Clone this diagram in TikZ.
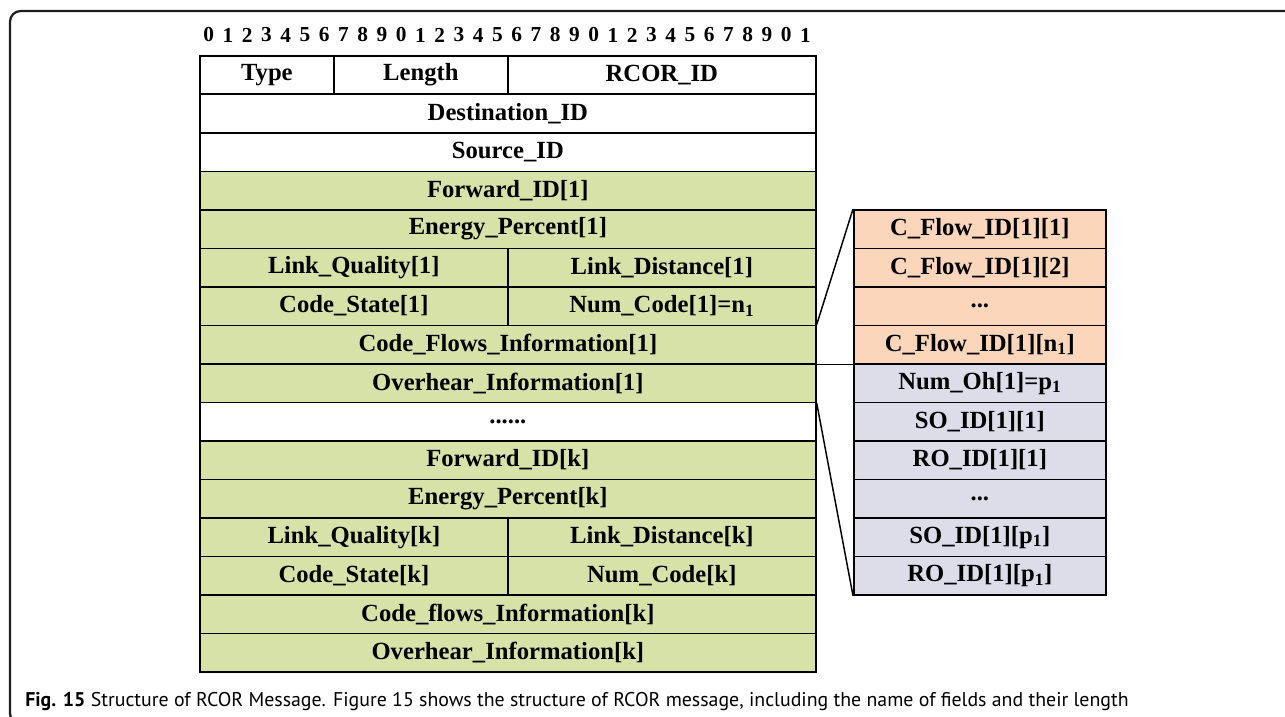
\documentclass[tikz,border=0pt]{standalone}
\usepackage{fontspec}
\setmainfont{Liberation Serif}
\newfontfamily\capfont{PT Sans}

\definecolor{fgreen}{RGB}{214,226,168}
\definecolor{fpeach}{RGB}{252,214,186}
\definecolor{flav}{RGB}{221,221,234}
\definecolor{framegray}{RGB}{30,30,30}

\tikzset{
  field/.style={draw=black, line width=1.3pt, anchor=north west, inner sep=0pt,
    minimum height=28.875pt, font=\fontsize{18.5}{20}\selectfont\bfseries},
  wfield/.style={field, fill=white},
  gfield/.style={field, fill=fgreen},
  pfield/.style={field, fill=fpeach},
  lfield/.style={field, fill=flav},
  full/.style={minimum width=462pt},
  half/.style={minimum width=231pt},
  side/.style={minimum width=189pt},
  bitnum/.style={font=\fontsize{16}{18}\selectfont\bfseries, inner sep=0pt},
  link/.style={draw=black, line width=1.1pt},
}

\begin{document}
\begin{tikzpicture}[x=0.75pt, y=-0.75pt]
\useasboundingbox (0,0) rectangle (1285,717);
\begin{scope}
\clip (0,0) rectangle (1285,717);
% outer frame of the figure box
\draw[framegray, line width=1.7pt, rounded corners=8pt] (10,11) rectangle (1320,724);
\end{scope}

% bit numbering above the message
\foreach \i in {0,...,31} {
  \pgfmathtruncatemacro\d{mod(\i,10)}
  \node[bitnum] (b\i) at ({199+(\i+0.5)*19.25},35) {\d};
}

% message fields
\node[wfield, minimum width=100.5pt] (type) at (199,55) {Type};
\node[wfield, minimum width=130.5pt] (len) at (333,55) {Length};
\node[wfield, half] (rcor) at (507,55) {RCOR\_ID};
\node[wfield, full] (dst) at (199,93.5) {Destination\_ID};
\node[wfield, full] (src) at (199,132) {Source\_ID};
\node[gfield, full] (fw1) at (199,170.5) {Forward\_ID[1]};
\node[gfield, full] (en1) at (199,209) {Energy\_Percent[1]};
\node[gfield, half] (lq1) at (199,247.5) {Link\_Quality[1]};
\node[gfield, half] (ld1) at (507,247.5) {Link\_Distance[1]};
\node[gfield, half] (cs1) at (199,286) {Code\_State[1]};
\node[gfield, half] (nc1) at (507,286) {Num\_Code[1]=n\textsubscript{1}};
\node[gfield, full] (cf1) at (199,324.5) {Code\_Flows\_Information[1]};
\node[gfield, full] (oh1) at (199,363) {Overhear\_Information[1]};
\node[wfield, full] (dots) at (199,401.5) {......};
\node[gfield, full] (fwk) at (199,440) {Forward\_ID[k]};
\node[gfield, full] (enk) at (199,478.5) {Energy\_Percent[k]};
\node[gfield, half] (lqk) at (199,517) {Link\_Quality[k]};
\node[gfield, half] (ldk) at (507,517) {Link\_Distance[k]};
\node[gfield, half] (csk) at (199,555.5) {Code\_State[k]};
\node[gfield, half] (nck) at (507,555.5) {Num\_Code[k]};
\node[gfield, full] (cfk) at (199,594) {Code\_flows\_Information[k]};
\node[gfield, full] (ohk) at (199,632.5) {Overhear\_Information[k]};

% expanded code flow and overhear information
\node[pfield, side] (c1) at (853,209) {C\_Flow\_ID[1][1]};
\node[pfield, side] (c2) at (853,247.5) {C\_Flow\_ID[1][2]};
\node[pfield, side] (c3) at (853,286) {...};
\node[pfield, side] (cn) at (853,324.5) {C\_Flow\_ID[1][n\textsubscript{1}]};
\node[lfield, side] (noh) at (853,363) {Num\_Oh[1]=p\textsubscript{1}};
\node[lfield, side] (so1) at (853,401.5) {SO\_ID[1][1]};
\node[lfield, side] (ro1) at (853,440) {RO\_ID[1][1]};
\node[lfield, side] (od) at (853,478.5) {...};
\node[lfield, side] (sop) at (853,517) {SO\_ID[1][p\textsubscript{1}]};
\node[lfield, side] (rop) at (853,555.5) {RO\_ID[1][p\textsubscript{1}]};

% expansion guide lines
\draw[link] (cf1.north east) -- (c1.north west);
\draw[link] (cf1.south east) -- (cn.south west);
\draw[link] (oh1.south east) -- (rop.south west);

% caption
\node[anchor=base west, inner sep=0pt, font=\capfont\fontsize{14.9}{17}\selectfont] (cap) at (25,706)
  {\textbf{Fig. 15} Structure of RCOR Message. Figure 15 shows the structure of RCOR message, including the name of fields and their length};
\end{tikzpicture}
\end{document}
